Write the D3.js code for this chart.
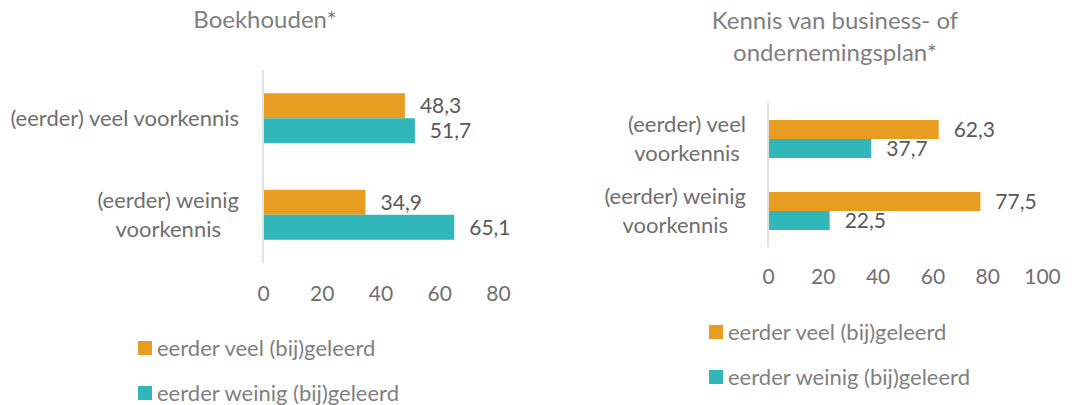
<!DOCTYPE html>
<html>
<head>
<meta charset="utf-8">
<script src="https://cdn.jsdelivr.net/npm/d3@7"></script>
<style>
  body { margin: 0; background: #fff; }
  svg { display: block; font-family: Lato, "Open Sans", sans-serif; }
</style>
</head>
<body>
<div id="chart"></div>
<script>
// data
var categories = [["(eerder) veel voorkennis"], ["(eerder) weinig", "voorkennis"]];
var categoriesRight = [["(eerder) veel", "voorkennis"], ["(eerder) weinig", "voorkennis"]];
var seriesNames = ["eerder veel (bij)geleerd", "eerder weinig (bij)geleerd"];
var boekVeel = [48.3, 34.9];
var boekWeinig = [51.7, 65.1];
var planVeel = [62.3, 77.5];
var planWeinig = [37.7, 22.5];
var ticksLeft = [0, 20, 40, 60, 80];
var ticksRight = [0, 20, 40, 60, 80, 100];
var colors = ["#E89C20", "#31B6BA"];

var svg = d3.select("#chart").append("svg")
  .attr("width", 1078)
  .attr("height", 405);

function fmt(v) { return d3.format(".1f")(v).replace(".", ","); }

function panel(opt) {
  var g = svg.append("g");

  var x = d3.scaleLinear().domain([0, opt.max]).range([opt.x0, opt.x1]);
  var y = d3.scaleBand().domain(d3.range(opt.cats.length)).range([opt.y0, opt.y1]);

  // title
  var title = g.append("text")
    .attr("text-anchor", "middle")
    .attr("fill", "#7f7f7f")
    .style("font-size", "24px");
  opt.title.forEach(function(t, i) {
    title.append("tspan").attr("x", opt.titleX).attr("y", opt.titleY + i * 32).text(t);
  });

  // axis line
  g.append("line")
    .attr("x1", x(0)).attr("x2", x(0))
    .attr("y1", opt.y0).attr("y2", opt.y1)
    .attr("stroke", "#d9d9d9").attr("stroke-width", 1.5);

  // x axis labels
  var ax = d3.axisBottom(x).tickValues(opt.ticks).tickSize(0).tickPadding(0);
  var axg = g.append("g").attr("transform", "translate(0," + opt.tickY + ")").call(ax);
  axg.select(".domain").remove();
  axg.selectAll("text")
    .attr("fill", "#6f6f6f")
    .attr("font-family", "Lato, sans-serif")
    .style("font-size", "21px");

  // bars
  var series = [opt.a, opt.b];
  series.forEach(function(vals, s) {
    vals.forEach(function(v, i) {
      var yy = y(i) + y.bandwidth() / 2 + (s - 1) * opt.barH;
      g.append("rect")
        .attr("x", x(0) + 1)
        .attr("y", yy)
        .attr("width", x(v) - x(0) - 1)
        .attr("height", opt.barH)
        .attr("fill", colors[s]);
      g.append("text")
        .attr("x", x(v) + 15)
        .attr("y", yy + opt.barH / 2)
        .attr("dy", "0.35em")
        .attr("fill", "#595959")
        .style("font-size", "21px")
        .text(fmt(v));
    });
  });

  // category labels
  opt.cats.forEach(function(lines, i) {
    var t = g.append("text")
      .attr("text-anchor", "middle")
      .attr("fill", "#6f6f6f")
      .style("font-size", "22px");
    var spans = lines.map(function(l, k) {
      return t.append("tspan").text(l)
        .attr("y", y(i) + y.bandwidth() / 2 + (k - (lines.length - 1) / 2) * opt.lineH)
        .attr("dy", "0.35em");
    });
    var w = d3.max(spans, function(s) { return s.node().getComputedTextLength(); });
    spans.forEach(function(s) { s.attr("x", opt.labelRight - w / 2); });
  });

  // legend
  seriesNames.forEach(function(n, s) {
    var ly = opt.legY + s * opt.legGap;
    g.append("rect")
      .attr("x", opt.legX).attr("y", ly - 7)
      .attr("width", 14).attr("height", 14)
      .attr("fill", colors[s]);
    g.append("text")
      .attr("x", opt.legX + 19).attr("y", ly)
      .attr("dy", "0.35em")
      .attr("fill", "#7f7f7f")
      .style("font-size", "22px")
      .text(n);
  });
}

panel({
  title: ["Boekhouden*"], titleX: 265, titleY: 28,
  cats: categories, a: boekVeel, b: boekWeinig,
  max: 80, ticks: ticksLeft,
  x0: 263, x1: 498, y0: 70, y1: 263,
  barH: 25, lineH: 29, labelRight: 239,
  tickY: 286,
  legX: 138, legY: 348, legGap: 45
});

panel({
  title: ["Kennis van business- of", "ondernemingsplan*"], titleX: 835, titleY: 29,
  cats: categoriesRight, a: planVeel, b: planWeinig,
  max: 100, ticks: ticksRight,
  x0: 768, x1: 1042, y0: 103, y1: 247,
  barH: 19, lineH: 29, labelRight: 746,
  tickY: 269,
  legX: 709, legY: 332, legGap: 45
});
</script>
</body>
</html>
